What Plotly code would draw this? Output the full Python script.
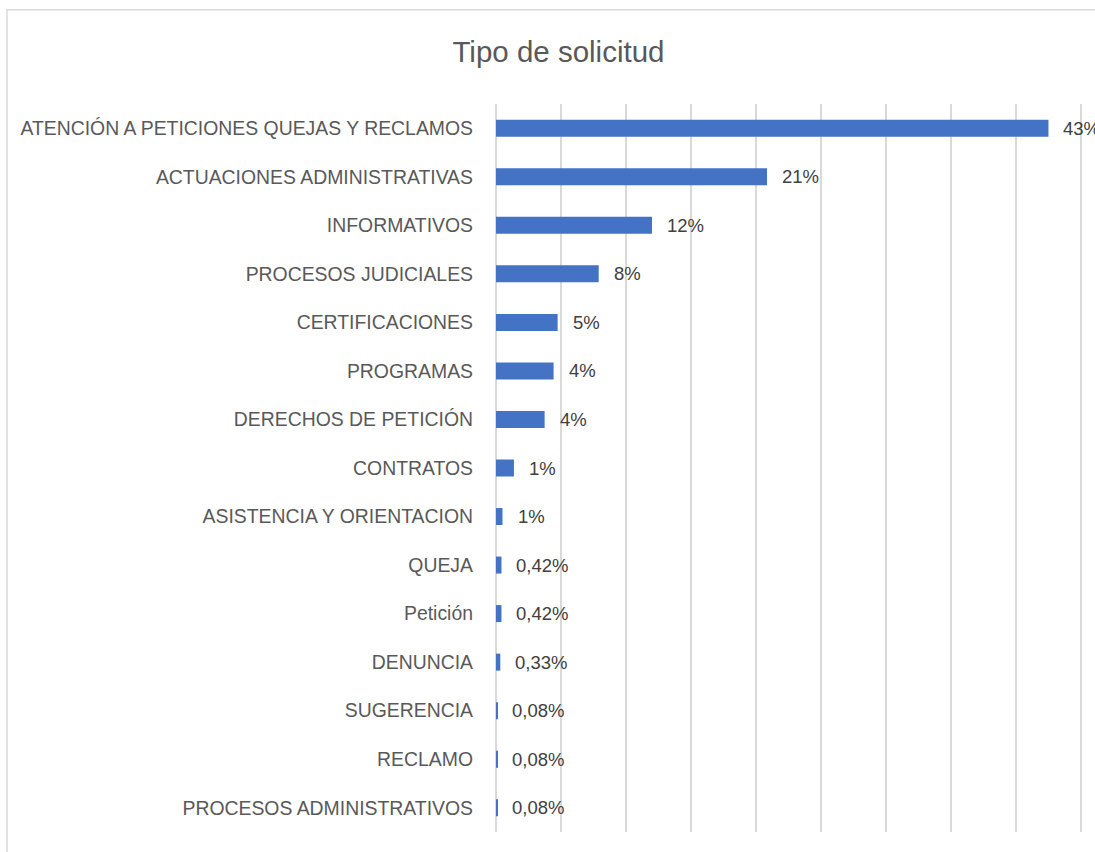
import plotly.graph_objects as go

categories = [
    'ATENCIÓN A PETICIONES QUEJAS Y RECLAMOS',
    'ACTUACIONES ADMINISTRATIVAS',
    'INFORMATIVOS',
    'PROCESOS JUDICIALES',
    'CERTIFICACIONES',
    'PROGRAMAS',
    'DERECHOS DE PETICIÓN',
    'CONTRATOS',
    'ASISTENCIA Y ORIENTACION',
    'QUEJA',
    'Petición',
    'DENUNCIA',
    'SUGERENCIA',
    'RECLAMO',
    'PROCESOS ADMINISTRATIVOS',
]
values = [0.425, 0.2085, 0.12, 0.079, 0.0474, 0.0443, 0.0374, 0.0138,
          0.005, 0.0042, 0.0042, 0.0033, 0.0008, 0.0008, 0.0008]
value_labels = ['43%', '21%', '12%', '8%', '5%', '4%', '4%', '1%', '1%',
                '0,42%', '0,42%', '0,33%', '0,08%', '0,08%', '0,08%']
x_ticks = [0, 0.05, 0.10, 0.15, 0.20, 0.25, 0.30, 0.35, 0.40, 0.45]

FONT = 'Liberation Sans, Arial, sans-serif'

fig = go.Figure()
fig.add_trace(
    go.Bar(
        x=values,
        y=categories,
        orientation='h',
        marker={'color': '#4472c4', 'line': {'width': 0}},
        hoverinfo='skip',
    )
)

for cat, val, lab in zip(categories, values, value_labels):
    fig.add_annotation(
        x=val, y=cat, text=lab, showarrow=False,
        xanchor='left', yanchor='middle', xshift=13,
        font={'family': FONT, 'size': 18.5, 'color': '#404040'},
    )

# outer chart-area border (Excel style)
fig.add_shape(
    type='rect', xref='paper', yref='paper',
    x0=-0.8164, x1=1.05, y0=-0.06, y1=1.1295,
    line={'color': '#d9d9d9', 'width': 1.5}, fillcolor='rgba(0,0,0,0)',
    layer='below',
)

fig.update_layout(
    width=1095,
    height=852,
    paper_bgcolor='white',
    plot_bgcolor='white',
    margin={'l': 496, 'r': 0, 't': 104, 'b': 20, 'autoexpand': False},
    bargap=0.65,
    showlegend=False,
    title={
        'text': 'Tipo de solicitud',
        'xref': 'container', 'yref': 'container',
        'x': 0.51, 'xanchor': 'center',
        'y': 1 - 52 / 852, 'yanchor': 'middle',
        'font': {'family': FONT, 'size': 29.5, 'color': '#595959'},
    },
    xaxis={
        'range': [0, 0.4608],
        'tickvals': x_ticks,
        'showticklabels': False,
        'showgrid': True,
        'gridcolor': '#d9d9d9',
        'gridwidth': 1.5,
        'zeroline': True,
        'zerolinecolor': '#d9d9d9',
        'zerolinewidth': 1.5,
        'showline': False,
        'automargin': False,
        'fixedrange': True,
    },
    yaxis={
        'autorange': 'reversed',
        'showgrid': False,
        'showline': False,
        'ticks': '',
        'ticklabelstandoff': 22,
        'automargin': False,
        'tickfont': {'family': FONT, 'size': 19.4, 'color': '#595959'},
        'fixedrange': True,
    },
)

fig.write_html(
    'out.html',
    config={'displayModeBar': False},
    post_script="document.body.style.margin='0';",
)
